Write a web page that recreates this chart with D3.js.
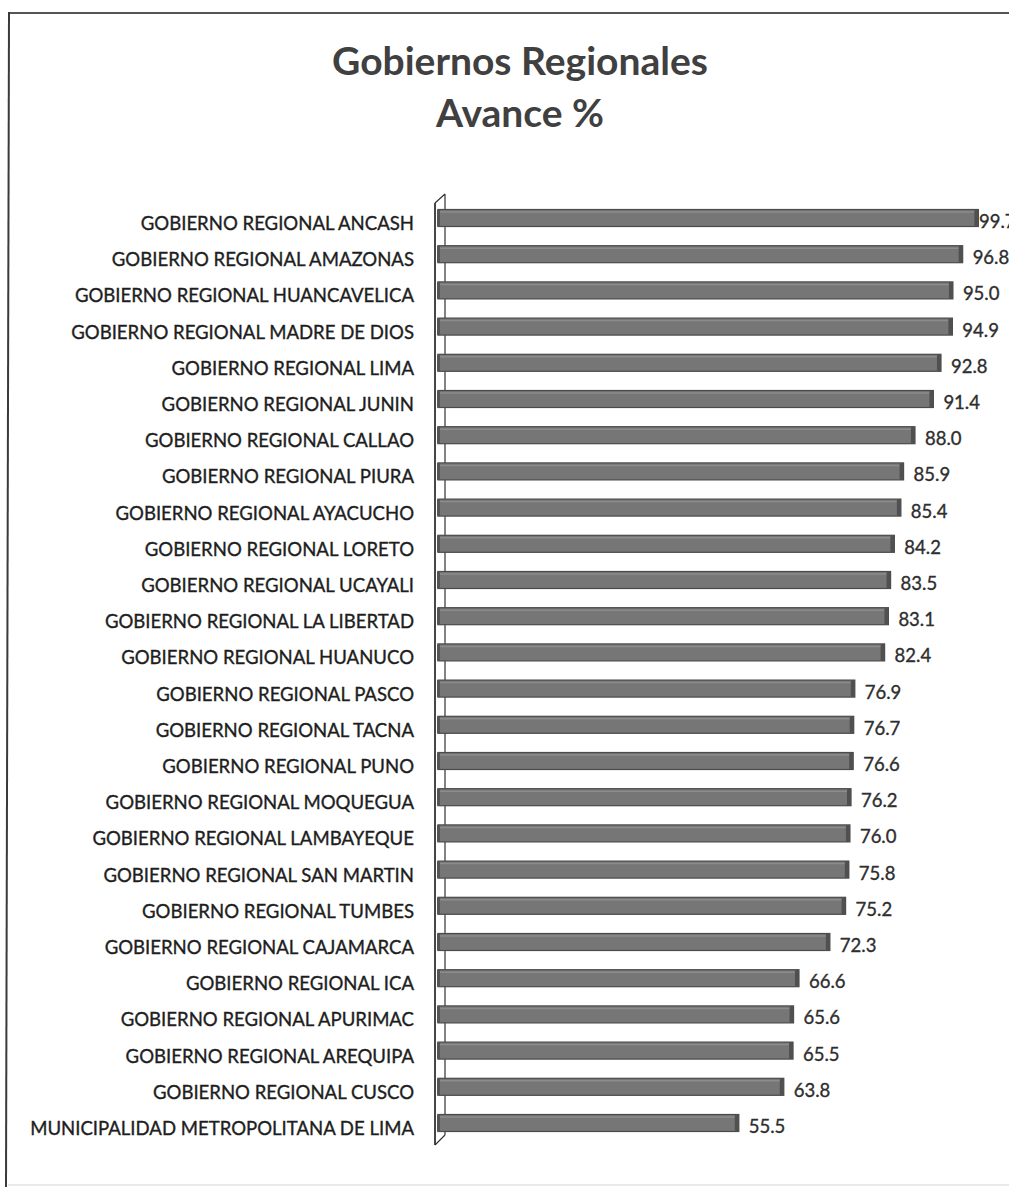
<!DOCTYPE html>
<html lang="es">
<head>
<meta charset="utf-8">
<title>Gobiernos Regionales - Avance %</title>
<script src="https://cdn.jsdelivr.net/npm/d3@7"></script>
<style>
  body { margin: 0; background: #fff; }
  svg { display: block; }
  .cat text { font-family: Lato, "Open Sans", sans-serif; fill: #1e1e1e; stroke: #1e1e1e; stroke-width: 0.35px; }
  .val { font-family: Lato, "Open Sans", sans-serif; fill: #2e2e2e; stroke: #2e2e2e; stroke-width: 0.35px; }
</style>
</head>
<body>
<div id="chart"></div>
<script>
// datos
var regiones = [
  "GOBIERNO REGIONAL ANCASH",
  "GOBIERNO REGIONAL AMAZONAS",
  "GOBIERNO REGIONAL HUANCAVELICA",
  "GOBIERNO REGIONAL MADRE DE DIOS",
  "GOBIERNO REGIONAL LIMA",
  "GOBIERNO REGIONAL JUNIN",
  "GOBIERNO REGIONAL CALLAO",
  "GOBIERNO REGIONAL PIURA",
  "GOBIERNO REGIONAL AYACUCHO",
  "GOBIERNO REGIONAL LORETO",
  "GOBIERNO REGIONAL UCAYALI",
  "GOBIERNO REGIONAL LA LIBERTAD",
  "GOBIERNO REGIONAL HUANUCO",
  "GOBIERNO REGIONAL PASCO",
  "GOBIERNO REGIONAL TACNA",
  "GOBIERNO REGIONAL PUNO",
  "GOBIERNO REGIONAL MOQUEGUA",
  "GOBIERNO REGIONAL LAMBAYEQUE",
  "GOBIERNO REGIONAL SAN MARTIN",
  "GOBIERNO REGIONAL TUMBES",
  "GOBIERNO REGIONAL CAJAMARCA",
  "GOBIERNO REGIONAL ICA",
  "GOBIERNO REGIONAL APURIMAC",
  "GOBIERNO REGIONAL AREQUIPA",
  "GOBIERNO REGIONAL CUSCO",
  "MUNICIPALIDAD METROPOLITANA DE LIMA"
];
var avance = [99.7, 96.8, 95.0, 94.9, 92.8, 91.4, 88.0, 85.9, 85.4, 84.2, 83.5, 83.1, 82.4,
              76.9, 76.7, 76.6, 76.2, 76.0, 75.8, 75.2, 72.3, 66.6, 65.6, 65.5, 63.8, 55.5];
var titulo = ["Gobiernos Regionales", "Avance %"];

var data = regiones.map(function(d, i) { return {name: d, value: avance[i]}; });

var width = 1009, height = 1187;
var barH = 17;

var svg = d3.select("#chart").append("svg")
    .attr("width", width)
    .attr("height", height);

// marco escaneado
svg.append("line").attr("x1", 8).attr("y1", 13).attr("x2", width).attr("y2", 13)
    .attr("stroke", "#555").attr("stroke-width", 2);
svg.append("line").attr("x1", 9).attr("y1", 12).attr("x2", 6).attr("y2", height)
    .attr("stroke", "#3a3a3a").attr("stroke-width", 2);
svg.append("line").attr("x1", 8).attr("y1", 1185).attr("x2", width).attr("y2", 1185)
    .attr("stroke", "#e2e2e2").attr("stroke-width", 1.5);

// titulo
svg.selectAll(".title")
    .data(titulo)
    .enter().append("text")
    .attr("class", "title")
    .attr("x", 520)
    .attr("y", function(d, i) { return 75 + i * 52; })
    .attr("text-anchor", "middle")
    .style("font-family", "Lato, 'Open Sans', sans-serif")
    .style("font-weight", "bold")
    .style("font-size", "39px")
    .style("fill", "#404040")
    .text(function(d) { return d; });

var x = d3.scaleLinear().domain([0, 100]).range([438, 980]);
var y = d3.scalePoint().domain(regiones).range([218, 1123]);

// pared del eje (efecto 3D)
var wall = svg.append("g").attr("stroke", "#333").attr("fill", "none");
wall.append("path")
    .attr("d", "M445,194 L445,1135 M435,203 L445,194 M435,1145 L445,1135")
    .attr("stroke-width", 1.2);
wall.append("line")
    .attr("x1", 435).attr("y1", 203).attr("x2", 435).attr("y2", 1145)
    .attr("stroke-width", 1.8);

// barras
var bars = svg.selectAll(".bar")
    .data(data)
    .enter().append("g")
    .attr("class", "bar");

bars.append("rect")
    .attr("x", x(0))
    .attr("y", function(d) { return y(d.name) - barH / 2; })
    .attr("width", function(d) { return x(d.value) - x(0); })
    .attr("height", barH)
    .attr("fill", "#767676")
    .attr("stroke", "#4a4a4a")
    .attr("stroke-width", 1.2);

bars.append("line")
    .attr("x1", x(0) + 2)
    .attr("x2", function(d) { return x(d.value) - 3; })
    .attr("y1", function(d) { return y(d.name) - barH / 2 + 2.5; })
    .attr("y2", function(d) { return y(d.name) - barH / 2 + 2.5; })
    .attr("stroke", "#8c8c8c")
    .attr("stroke-width", 1.5);

bars.append("rect")
    .attr("x", function(d) { return x(d.value) - 4; })
    .attr("y", function(d) { return y(d.name) - barH / 2; })
    .attr("width", 4)
    .attr("height", barH)
    .attr("rx", 1.5)
    .attr("fill", "#505050");

bars.append("rect")
    .attr("x", x(0) - 1)
    .attr("y", function(d) { return y(d.name) - barH / 2; })
    .attr("width", 3)
    .attr("height", barH)
    .attr("fill", "#555");

// etiquetas de categoria
var cat = svg.append("g").attr("class", "cat");
var catText = cat.selectAll("text")
    .data(regiones)
    .enter().append("text")
    .attr("x", 414)
    .attr("y", function(d) { return y(d) + 5; })
    .attr("text-anchor", "end")
    .attr("dominant-baseline", "central")
    .style("font-size", "19px")
    .text(function(d) { return d; });

// ajustar el tamano para que la etiqueta mas larga ocupe ~384px
var longest = d3.max(catText.nodes(), function(n) { return n.getComputedTextLength(); });
catText.style("font-size", (19 * 384 / longest).toFixed(2) + "px");

// valores
svg.selectAll(".val")
    .data(data)
    .enter().append("text")
    .attr("class", "val")
    .attr("x", function(d) { return Math.min(x(d.value) + 10, 979); })
    .attr("y", function(d) { return y(d.name) + 3; })
    .attr("dominant-baseline", "central")
    .style("font-size", "18.5px")
    .text(function(d) { return d.value.toFixed(1); });
</script>
</body>
</html>
